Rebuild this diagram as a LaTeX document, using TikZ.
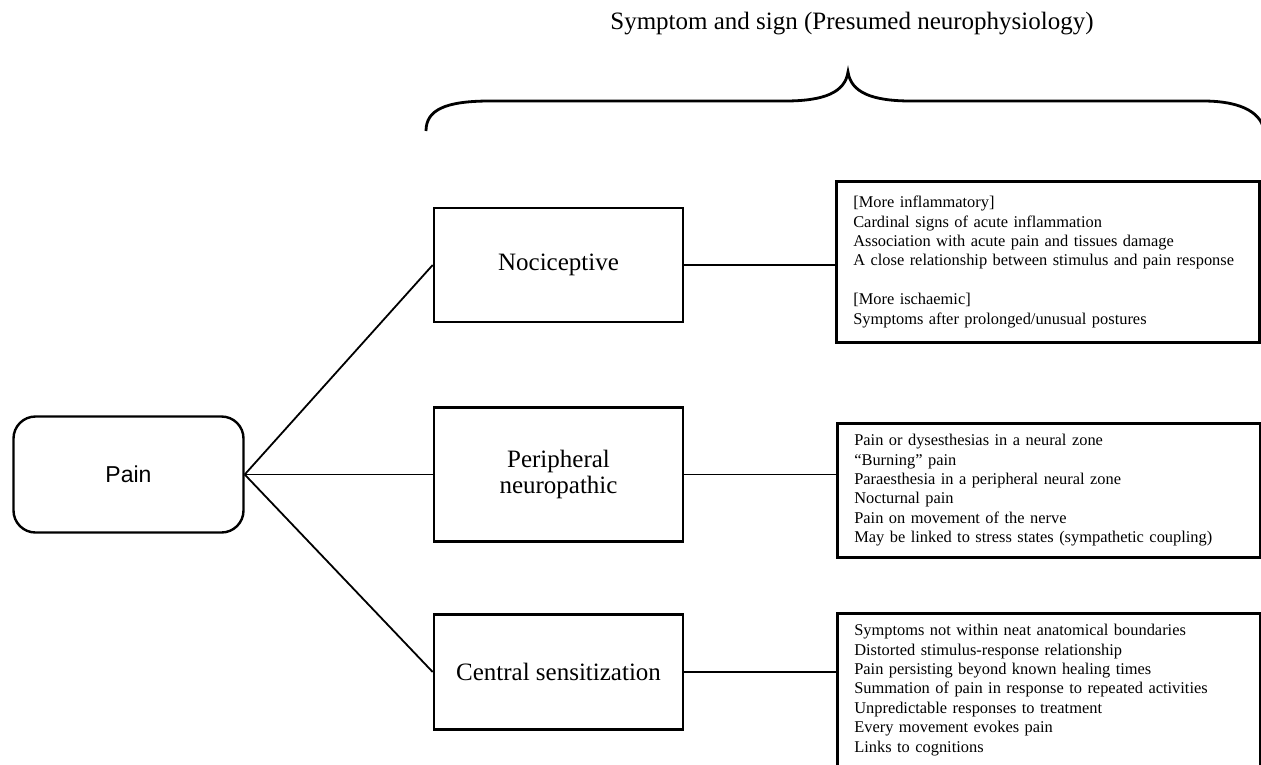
\documentclass[tikz,border=0pt]{standalone}
\usepackage{fontspec}
\setmainfont{Liberation Serif}
\newfontfamily\painfont{Liberation Sans}
\begin{document}
\begin{tikzpicture}[x=1pt,y=-1pt,
  conn/.style={line width=1.8pt},
  midbox/.style={draw,line width=2.6pt,minimum width=249pt,align=center,font=\fontsize{25}{26}\selectfont},
  infobox/.style={draw,line width=2.6pt,anchor=north west,text width=389pt,inner xsep=17pt,align=left,font=\fontsize{16.4}{19.4}\selectfont}]
\clip (0,0) rectangle (1261,764);
\fill[white] (0,0) rectangle (1261,764);
% title
\node[font=\fontsize{25}{28}\selectfont] (title) at (852,24) {Symptom and sign (Presumed neurophysiology)};
% brace
\draw[line width=2.8pt] (426,131) .. controls (426,110) and (445,101) .. (490,101) -- (785,101)
  .. controls (825,101) and (845,92) .. (848,72)
  .. controls (851,92) and (871,101) .. (911,101) -- (1203,101)
  .. controls (1245,101) and (1262,115) .. (1264,131);
% pain
\node[draw,line width=2.4pt,rounded corners=22pt,minimum width=230pt,minimum height=116pt,font=\painfont\fontsize{23}{26}\selectfont] (pain) at (128.5,474.5) {Pain};
% middle
\node[midbox,minimum height=114pt] (noc) at (558.5,265) {Nociceptive};
\node[midbox,minimum height=134pt] (per) at (558.5,474.5) {Peripheral\\neuropathic};
\node[midbox,minimum height=115pt] (cen) at (558.5,672) {Central sensitization};
% right boxes
\node[infobox,minimum height=161pt] (box1) at (835,180) {[More inflammatory]\\Cardinal signs of acute inflammation\\Association with acute pain and tissues damage\\A close relationship between stimulus and pain response\\[19.4pt][More ischaemic]\\Symptoms after prolonged/unusual postures};
\node[infobox,minimum height=134pt] (box2) at (836,422) {Pain or dysesthesias in a neural zone\\``Burning'' pain\\Paraesthesia in a peripheral neural zone\\Nocturnal pain\\Pain on movement of the nerve\\May be linked to stress states (sympathetic coupling)};
\node[infobox,inner ysep=11pt] (box3) at (836,612) {Symptoms not within neat anatomical boundaries\\Distorted stimulus-response relationship\\Pain persisting beyond known healing times\\Summation of pain in response to repeated activities\\Unpredictable responses to treatment\\Every movement evokes pain\\Links to cognitions};
% connectors
\draw[conn] (pain.east) -- (noc.west);
\draw[conn] (pain.east) -- (pain.east -| per.west);
\draw[conn] (pain.east) -- (cen.west);
\draw[conn] (noc.east) -- (noc.east -| box1.west);
\draw[conn] (per.east) -- (per.east -| box2.west);
\draw[conn] (cen.east) -- (cen.east -| box3.west);
\end{tikzpicture}
\end{document}
